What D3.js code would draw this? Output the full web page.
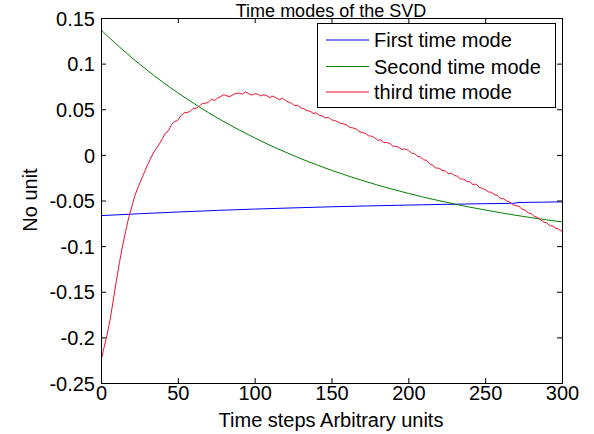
<!DOCTYPE html>
<html>
<head>
<meta charset="utf-8">
<script src="https://cdn.jsdelivr.net/npm/d3@7"></script>
<style>
  html, body { margin: 0; padding: 0; background: #fff; }
  svg { display: block; font-family: Arial, "Liberation Sans", sans-serif; }
</style>
</head>
<body>
<svg id="chart" width="594" height="434"></svg>
<script>
// ---- data ----
const title = "Time modes of the SVD";
const xLabel = "Time steps Arbitrary units";
const yLabel = "No unit";
const xTicks = [0, 50, 100, 150, 200, 250, 300];
const yTicks = [0.15, 0.1, 0.05, 0, -0.05, -0.1, -0.15, -0.2, -0.25];
const yTickLabels = ["0.15", "0.1", "0.05", "0", "-0.05", "-0.1", "-0.15", "-0.2", "-0.25"];
const seriesNames = ["First time mode", "Second time mode", "third time mode"];

const blueT = [0, 25, 50, 75, 100, 125, 150, 175, 200, 225, 250, 268, 272, 300];
const blueV = [-0.0666, -0.0645, -0.0626, -0.0609, -0.0594, -0.0581, -0.0569, -0.0559, -0.0550, -0.0542, -0.0535, -0.0531, -0.0522, -0.0515];

const greenT = [0, 10, 20, 30, 40, 50, 60, 70, 80, 90, 100, 110, 120, 130, 140, 150, 160, 170, 180, 190, 200, 210, 220, 230, 240, 250, 260, 270, 280, 290, 300];
const greenV = [0.137, 0.1213, 0.1066, 0.0929, 0.0800, 0.0680, 0.0568, 0.0462, 0.0364, 0.0272, 0.0186, 0.0105, 0.0030, -0.0041, -0.0107, -0.0169, -0.0226, -0.0280, -0.0331, -0.0378, -0.0422, -0.0464, -0.0502, -0.0539, -0.0573, -0.0604, -0.0634, -0.0662, -0.0688, -0.0712, -0.0735];

// third mode sampled every 2 time steps (0..300)
const redV = [
  -0.226, -0.211, -0.197, -0.180, -0.159, -0.138, -0.118, -0.100, -0.084, -0.069,
  -0.057, -0.045, -0.036, -0.028, -0.020, -0.012, -0.005, 0.002, 0.007, 0.012,
  0.018, 0.024, 0.0265, 0.0335, 0.0365, 0.038, 0.043, 0.046, 0.0465, 0.0475,
  0.051, 0.051, 0.0535, 0.0565, 0.0565, 0.058, 0.061, 0.0595, 0.0625, 0.064,
  0.066, 0.0645, 0.064, 0.066, 0.0675, 0.0675, 0.0665, 0.069, 0.0672, 0.0655,
  0.067, 0.0665, 0.0645, 0.066, 0.0648, 0.0628, 0.0645, 0.0625, 0.0605, 0.062,
  0.0595, 0.058, 0.0565, 0.054, 0.0545, 0.0515, 0.0505, 0.0485, 0.048, 0.0455,
  0.046, 0.0435, 0.0425, 0.0405, 0.041, 0.0385, 0.0375, 0.0365, 0.0345, 0.034,
  0.0325, 0.030, 0.0295, 0.0285, 0.0255, 0.0245, 0.0235, 0.021, 0.0205, 0.019,
  0.016, 0.0165, 0.0135, 0.0135, 0.0125, 0.0095, 0.0095, 0.008, 0.006, 0.0065,
  0.005, 0.002, 0.0015, -0.0015, -0.0025, -0.0055, -0.006, -0.010, -0.0115, -0.0145,
  -0.0145, -0.017, -0.0175, -0.0205, -0.020, -0.0225, -0.0235, -0.0265, -0.0265, -0.029,
  -0.0295, -0.0325, -0.032, -0.0355, -0.0365, -0.038, -0.0405, -0.041, -0.0435, -0.0445,
  -0.048, -0.048, -0.0505, -0.0515, -0.0545, -0.0555, -0.0565, -0.0595, -0.0605, -0.0635,
  -0.0645, -0.0675, -0.0685, -0.071, -0.0735, -0.0745, -0.0775, -0.078, -0.0805, -0.0815,
  -0.084
];
const redT = redV.map((_, i) => i * 2);

const colors = ["#0000ff", "#008000", "#f0102a"];

// ---- layout ----
const svg = d3.select("#chart");
const mLeft = 101, mRight = 562, mTop = 18, mBottom = 383;
const x = d3.scaleLinear().domain([0, 300]).range([mLeft, mRight]);
const y = d3.scaleLinear().domain([-0.25, 0.15]).range([mBottom, mTop]);

const plot = svg.append("g");
plot.append("rect").attr("x", mLeft).attr("y", mTop)
  .attr("width", mRight - mLeft).attr("height", mBottom - mTop).attr("fill", "#fff");

// lines
const series = [
  { t: blueT, v: blueV },
  { t: greenT, v: greenV },
  { t: redT, v: redV }
];
svg.append("clipPath").attr("id", "clip")
  .append("rect").attr("x", mLeft).attr("y", mTop).attr("width", mRight - mLeft).attr("height", mBottom - mTop);
series.forEach((s, i) => {
  const pts = s.t.map((t, j) => [t, s.v[j]]);
  const ln = d3.line().x(d => x(d[0])).y(d => y(d[1]))
    .curve(i === 1 ? d3.curveMonotoneX : d3.curveLinear);
  plot.append("path").datum(pts)
    .attr("d", ln)
    .attr("fill", "none").attr("stroke", colors[i]).attr("stroke-width", 1)
    .attr("clip-path", "url(#clip)");
});

// axes (MATLAB style box with inward ticks)
const axisColor = "#000";
const tickLen = 5;
const fontSize = 20;

const gx = svg.append("g").attr("transform", `translate(0,${mBottom})`)
  .call(d3.axisBottom(x).tickValues(xTicks).tickSize(-tickLen).tickPadding(7).tickFormat(d3.format("d")));
const gxTop = svg.append("g").attr("transform", `translate(0,${mTop})`)
  .call(d3.axisTop(x).tickValues(xTicks).tickSize(-tickLen).tickFormat(""));
const gy = svg.append("g").attr("transform", `translate(${mLeft},0)`)
  .call(d3.axisLeft(y).tickValues(yTicks).tickSize(-tickLen).tickPadding(6)
    .tickFormat((d, i) => yTickLabels[i]));
const gyR = svg.append("g").attr("transform", `translate(${mRight},0)`)
  .call(d3.axisRight(y).tickValues(yTicks).tickSize(-tickLen).tickFormat(""));

[gx, gxTop, gy, gyR].forEach(g => {
  g.select(".domain").attr("stroke", axisColor).attr("stroke-width", 1);
  g.selectAll(".tick line").attr("stroke", axisColor);
  g.selectAll(".tick text").attr("fill", "#000").attr("font-size", fontSize)
    .attr("font-family", "Arial, 'Liberation Sans', sans-serif");
});
gx.selectAll(".tick text").attr("dy", "0.71em").attr("y", 3);
gy.selectAll(".tick text").attr("dy", "0.36em").attr("x", -6);

// title and labels
svg.append("text").attr("x", 331).attr("y", 16.5).attr("text-anchor", "middle")
  .attr("font-size", 18).text(title);
svg.append("text").attr("x", 331).attr("y", 427).attr("text-anchor", "middle")
  .attr("font-size", fontSize).text(xLabel);
svg.append("text").attr("transform", "translate(37,200) rotate(-90)")
  .attr("text-anchor", "middle").attr("font-size", fontSize).text(yLabel);

// legend
const lg = svg.append("g");
lg.append("rect").attr("x", 317.5).attr("y", 23.5).attr("width", 238).attr("height", 84)
  .attr("fill", "#fff").attr("stroke", "#000").attr("stroke-width", 1);
const rowsY = [40, 66.5, 92];
seriesNames.forEach((name, i) => {
  lg.append("line").attr("x1", 326).attr("x2", 369).attr("y1", rowsY[i]).attr("y2", rowsY[i])
    .attr("stroke", colors[i]).attr("stroke-width", 1);
  lg.append("text").attr("x", 374).attr("y", rowsY[i] + 7).attr("font-size", fontSize).text(name);
});
</script>
</body>
</html>
